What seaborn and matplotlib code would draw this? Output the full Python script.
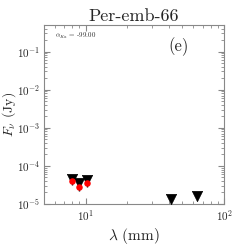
import matplotlib
matplotlib.use("Agg")
import matplotlib.pyplot as plt
import seaborn as sns
import pandas as pd
import numpy as np

# detections (red) with upper-limit arrows above them
wave_det = [8.0, 8.9, 10.2]
flux_det = [4.0e-5, 2.85e-5, 3.5e-5]
flux_err = [0.9e-5, 0.6e-5, 0.8e-5]
flux_lim_det = [4.6e-5, 3.5e-5, 4.3e-5]

# upper limits only
wave_lim = [41.0, 64.0]
flux_lim = [1.35e-5, 1.65e-5]

source_name = "Per-emb-66"
alpha_ka = -99.00
panel = "(e)"

sns.set_style("ticks")
plt.rcParams['font.family'] = ['cmr10', 'DejaVu Serif']
plt.rcParams['mathtext.fontset'] = 'cm'
plt.rcParams['axes.formatter.use_mathtext'] = True

fig = plt.figure(figsize=(2.49, 2.49), dpi=100)
ax = fig.add_axes([0.177, 0.181, 0.723, 0.719])

lims = pd.DataFrame({"wave": wave_det + wave_lim, "flux": flux_lim_det + flux_lim})
det = pd.DataFrame({"wave": wave_det, "flux": flux_det})

ax.errorbar(wave_det, flux_det, yerr=flux_err, fmt='none', ecolor='black', elinewidth=1.0, zorder=2)
sns.scatterplot(data=lims, x="wave", y="flux", marker="v", color="black", s=55,
                edgecolor="black", linewidth=0.5, ax=ax, zorder=3)
sns.scatterplot(data=det, x="wave", y="flux", marker="o", color="red", s=22,
                edgecolor="red", linewidth=0, ax=ax, zorder=4)

ax.set_xscale("log")
ax.set_yscale("log")
ax.set_xlim(5, 100)
ax.set_ylim(1e-5, 0.5)

ax.set_title(source_name, fontsize=13, pad=3)
ax.set_xlabel(r"$\lambda$ (mm)", fontsize=11, labelpad=2)
ax.set_ylabel(r"$F_\nu$ (Jy)", fontsize=10)
ax.yaxis.set_label_coords(-0.143, 0.5)

ax.text(0.06, 0.94, r"$\alpha_{Ka}$ = %.2f" % alpha_ka, transform=ax.transAxes, fontsize=5, va="center")
ax.text(0.69, 0.88, panel, transform=ax.transAxes, fontsize=12, va="center")

for s in ax.spines.values():
    s.set_color("#888888")
    s.set_linewidth(0.8)
ax.tick_params(which="both", direction="in", top=True, right=True, color="#888888", labelsize=8, pad=3)
ax.tick_params(which="major", length=4)
ax.tick_params(which="minor", length=2)
ax.yaxis.set_minor_locator(matplotlib.ticker.LogLocator(base=10, subs=np.arange(2, 10), numticks=20))
ax.yaxis.set_minor_formatter(matplotlib.ticker.NullFormatter())

fig.savefig("out.png", dpi=100)
